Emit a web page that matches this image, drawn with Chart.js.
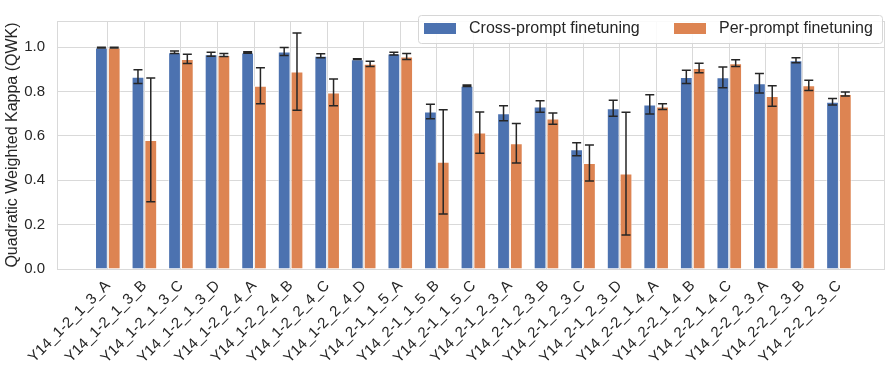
<!DOCTYPE html>
<html>
<head>
<meta charset="utf-8">
<script src="https://cdn.jsdelivr.net/npm/chart.js@4/dist/chart.umd.min.js"></script>
<style>
  html, body { margin: 0; padding: 0; background: #fff; }
  #wrap { width: 886px; height: 368px; }
</style>
</head>
<body>
<div id="wrap"><canvas id="chart"></canvas></div>
<script>
const categories = [
  'Y14_1-2_1_3_A', 'Y14_1-2_1_3_B', 'Y14_1-2_1_3_C', 'Y14_1-2_1_3_D',
  'Y14_1-2_2_4_A', 'Y14_1-2_2_4_B', 'Y14_1-2_2_4_C', 'Y14_1-2_2_4_D',
  'Y14_2-1_1_5_A', 'Y14_2-1_1_5_B', 'Y14_2-1_1_5_C', 'Y14_2-1_2_3_A',
  'Y14_2-1_2_3_B', 'Y14_2-1_2_3_C', 'Y14_2-1_2_3_D', 'Y14_2-2_1_4_A',
  'Y14_2-2_1_4_B', 'Y14_2-2_1_4_C', 'Y14_2-2_2_3_A', 'Y14_2-2_2_3_B',
  'Y14_2-2_2_3_C'
];

const crossMean = [0.998, 0.867, 0.977, 0.968, 0.976, 0.980, 0.961, 0.946, 0.971, 0.710, 0.826,
                   0.702, 0.733, 0.540, 0.725, 0.742, 0.866, 0.864, 0.837, 0.941, 0.754];
const crossErr  = [0.002, 0.031, 0.006, 0.009, 0.003, 0.018, 0.009, 0.002, 0.006, 0.033, 0.003,
                   0.034, 0.026, 0.029, 0.036, 0.043, 0.030, 0.047, 0.044, 0.011, 0.015];

const perMean = [0.998, 0.582, 0.947, 0.965, 0.826, 0.890, 0.796, 0.925, 0.958, 0.483, 0.615,
                 0.567, 0.678, 0.478, 0.430, 0.732, 0.906, 0.928, 0.780, 0.828, 0.789];
const perErr  = [0.002, 0.279, 0.021, 0.007, 0.081, 0.174, 0.060, 0.012, 0.013, 0.235, 0.093,
                 0.089, 0.025, 0.081, 0.277, 0.013, 0.021, 0.015, 0.046, 0.023, 0.009];

const yTicks = [0, 0.2, 0.4, 0.6, 0.8, 1.0];

const BLUE = '#4c72b0';
const ORANGE = '#dd8452';
const INK = '#262626';
const GRID = '#d9d9d9';
const FONT = '"Liberation Sans", Arial, sans-serif';

const toPoints = arr => arr.map((v, i) => ({ x: i, y: v }));

// error bars, frame and in-plot legend
const extras = {
  id: 'extras',
  afterDatasetsDraw(chart) {
    const ctx = chart.ctx;
    const y = chart.scales.y;
    ctx.save();
    ctx.strokeStyle = INK;
    ctx.lineWidth = 1.5;
    chart.data.datasets.forEach((ds, di) => {
      const meta = chart.getDatasetMeta(di);
      meta.data.forEach((bar, i) => {
        const m = ds.data[i].y, e = ds.err[i];
        const top = y.getPixelForValue(m + e);
        const bot = y.getPixelForValue(m - e);
        const cx = bar.x, cap = 4.5;
        ctx.beginPath();
        ctx.moveTo(cx, top); ctx.lineTo(cx, bot);
        ctx.moveTo(cx - cap, top); ctx.lineTo(cx + cap, top);
        ctx.moveTo(cx - cap, bot); ctx.lineTo(cx + cap, bot);
        ctx.stroke();
      });
    });
    ctx.restore();
  },
  afterDraw(chart) {
    const ctx = chart.ctx;
    const a = chart.chartArea;
    ctx.save();
    ctx.strokeStyle = GRID;
    ctx.lineWidth = 1;
    ctx.strokeRect(a.left + 0.5, a.top + 0.5, a.right - a.left - 1, a.bottom - a.top);

    // legend
    const lx = 418, ly = 15, lw = 464, lh = 28;
    ctx.fillStyle = 'rgba(255,255,255,0.85)';
    ctx.strokeStyle = '#d6d6d6';
    ctx.beginPath();
    ctx.roundRect(lx + 0.5, ly + 0.5, lw, lh, 3);
    ctx.fill();
    ctx.stroke();
    const items = [
      { x: 424, tx: 469 },
      { x: 674, tx: 719 }
    ];
    ctx.font = '16px ' + FONT;
    ctx.textBaseline = 'middle';
    chart.data.datasets.forEach((ds, i) => {
      ctx.fillStyle = ds.backgroundColor;
      ctx.fillRect(items[i].x, 23, 32, 11);
      ctx.fillStyle = INK;
      ctx.fillText(ds.label, items[i].tx, 29);
    });
    ctx.restore();
  }
};

new Chart(document.getElementById('chart'), {
  type: 'bar',
  data: {
    datasets: [
      {
        label: 'Cross-prompt finetuning',
        data: toPoints(crossMean),
        err: crossErr,
        backgroundColor: BLUE,
        borderColor: 'rgba(255,255,255,0.6)',
        borderWidth: 1
      },
      {
        label: 'Per-prompt finetuning',
        data: toPoints(perMean),
        err: perErr,
        backgroundColor: ORANGE,
        borderColor: 'rgba(255,255,255,0.6)',
        borderWidth: 1
      }
    ]
  },
  options: {
    responsive: true,
    maintainAspectRatio: false,
    animation: false,
    categoryPercentage: 0.7,
    barPercentage: 1.0,
    layout: { padding: { top: 7, right: 1, left: 0, bottom: 0 } },
    plugins: {
      legend: { display: false },
      tooltip: { enabled: false }
    },
    scales: {
      x: {
        type: 'linear',
        offset: false,
        min: -1.39,
        max: 21.26,
        afterBuildTicks: s => { s.ticks = categories.map((c, i) => ({ value: i })); },
        afterFit: s => { s.height = 99; s.paddingLeft = 0; s.paddingRight = 0; },
        grid: { color: GRID, drawTicks: false, offset: false },
        border: { display: false },
        ticks: {
          autoSkip: false,
          minRotation: 45,
          maxRotation: 45,
          padding: 8,
          color: INK,
          font: { family: FONT, size: 15 },
          callback: v => categories[v]
        }
      },
      y: {
        min: 0,
        max: 1.118,
        afterBuildTicks: s => { s.ticks = yTicks.map(v => ({ value: v })); },
        afterFit: s => { s.width = 57; },
        grid: { color: GRID, drawTicks: false },
        border: { display: false },
        ticks: {
          padding: 12,
          color: INK,
          font: { family: FONT, size: 15 },
          callback: v => v.toFixed(1)
        },
        title: {
          display: true,
          text: 'Quadratic Weighted Kappa (QWK)',
          color: INK,
          font: { family: FONT, size: 16 },
          padding: { top: 3, bottom: 0 }
        }
      }
    }
  },
  plugins: [extras]
});
</script>
</body>
</html>
